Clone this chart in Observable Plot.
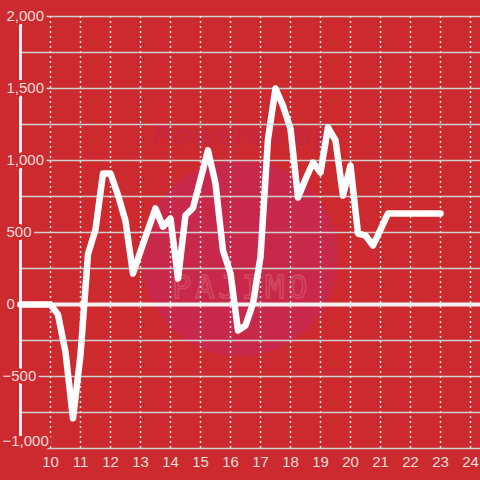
<!DOCTYPE html>
<html>
<head>
<meta charset="utf-8">
<script src="https://cdn.jsdelivr.net/npm/d3@7"></script>
<script src="https://cdn.jsdelivr.net/npm/@observablehq/plot@0.6"></script>
<style>
  html, body { margin: 0; padding: 0; background: #cc2a2e; }
  #wrap { position: relative; width: 480px; height: 480px; overflow: hidden; }
  #wm { position: absolute; left: 142px; top: 160px; width: 196px; height: 196px; border-radius: 50%; background: #c8284a; }
  #wm1 { position: absolute; left: 152px; top: 118px; font: italic bold 30px "Liberation Sans", Arial, sans-serif; color: #c6273f; letter-spacing: 1px; }
  #wm2 { position: absolute; left: 172px; top: 268px; font: 32px "DejaVu Sans Mono", monospace; color: transparent; -webkit-text-stroke: 1.5px #d34a62; letter-spacing: 4px; }
  #chart { position: absolute; left: 0; top: 0; }
</style>
</head>
<body>
<div id="wrap">
  <div id="wm"></div>
  <div id="wm1">Powered by</div>
  <div id="wm2">PAJIMO</div>
  <div id="chart"></div>
</div>
<script>
const xs = [9, 9.25, 9.5, 9.75, 10, 10.25, 10.5, 10.75, 11, 11.25, 11.5, 11.75, 12, 12.25, 12.5, 12.75,
  13, 13.25, 13.5, 13.75, 14, 14.25, 14.5, 14.75, 15, 15.25, 15.5, 15.75, 16, 16.25, 16.5, 16.75,
  17, 17.25, 17.5, 17.75, 18, 18.25, 18.5, 18.75, 19, 19.25, 19.5, 19.75, 20, 20.25, 20.5, 20.75,
  21, 21.25, 21.5, 21.75, 22, 22.25, 22.5, 22.75, 23];
const values = [0, 0, 0, 0, 0, -70, -330, -790, -350, 350, 520, 910, 910, 760, 580, 215,
  370, 520, 667, 540, 597, 180, 620, 670, 870, 1070, 840, 375, 215, -180, -146, 7,
  330, 1150, 1500, 1380, 1220, 743, 870, 986, 917, 1230, 1140, 757, 965, 493, 479, 410,
  520, 632, 632, 632, 632, 632, 632, 632, 632];
const xTicks = [10, 11, 12, 13, 14, 15, 16, 17, 18, 19, 20, 21, 22, 23, 24];
const yTicks = [-1000, -500, 0, 500, 1000, 1500, 2000];
const yGrid = [-750, -500, -250, 250, 500, 750, 1000, 1250, 1500, 1750, 2000];

const data = xs.map((x, i) => ({x, v: values[i]}));
const bg = "#cc2a2e";
const font = "Liberation Sans, Arial, sans-serif";
const fmt = d3.format(",");
const labelStyle = {textAnchor: "start", fill: "#f3dcdc", stroke: bg, strokeWidth: 6, fontSize: 15};

const chart = Plot.plot({
  width: 480,
  height: 480,
  marginLeft: 20,
  marginRight: 0,
  marginTop: 16,
  marginBottom: 32,
  x: {domain: [9, 24.333], axis: null},
  y: {domain: [-1000, 2000], axis: null},
  style: {background: "transparent", fontFamily: font, overflow: "visible"},
  marks: [
    Plot.ruleY(yGrid, {stroke: "#cfcfcf", strokeWidth: 1.5}),
    Plot.ruleY([-1000], {insetLeft: 26, stroke: "#cfcfcf", strokeWidth: 1.5}),
    Plot.ruleX(xTicks, {y1: 2000, y2: -1000, stroke: "#e6e6e6", strokeWidth: 1.5, strokeDasharray: "2,3"}),
    Plot.ruleY([0], {x1: 8.9, x2: 24.333, stroke: "#f4f0f0", strokeWidth: 4}),
    Plot.ruleX([9], {y1: 2000, y2: -1000, insetTop: 8, insetBottom: 12, stroke: "#f4f0f0", strokeWidth: 3}),
    Plot.line(data, {x: "x", y: "v", stroke: "white", strokeWidth: 6.5, strokeLinejoin: "round"}),
    Plot.text(yTicks.filter(d => d >= 0), {x: 9, y: d => d, dx: -14, text: d => fmt(d), ...labelStyle}),
    Plot.text(yTicks.filter(d => d < 0 && d > -1000), {x: 9, y: d => d, dx: -18, text: d => fmt(d), ...labelStyle}),
    Plot.text(yTicks.filter(d => d === -1000), {x: 9, y: d => d, dx: -18, dy: -7, text: d => fmt(d), ...labelStyle}),
    Plot.text(xTicks, {x: d => d, y: -1000, dy: 14, text: d => String(d),
      fill: "#f3dcdc", fontSize: 15})
  ]
});
document.getElementById("chart").appendChild(chart);
</script>
</body>
</html>
